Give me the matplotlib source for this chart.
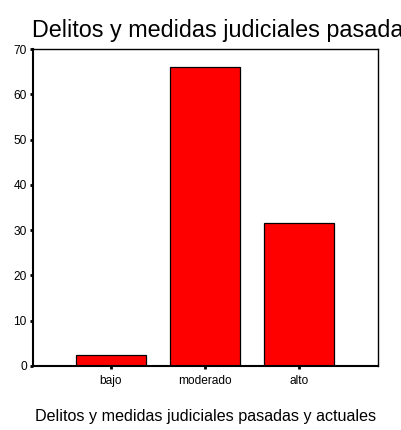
import matplotlib
matplotlib.use('Agg')
import matplotlib.pyplot as plt

plt.rcParams['font.family'] = ['Liberation Sans', 'DejaVu Sans']

categorias = ['bajo', 'moderado', 'alto']
porcentajes = [2.4, 66.0, 31.6]
yticks = [0, 10, 20, 30, 40, 50, 60, 70]

W, H = 401, 430
fig = plt.figure(figsize=(W / 100, H / 100), dpi=100)
ax = fig.add_axes([33 / W, (H - 366) / H, 345 / W, 317 / H])

x = range(len(categorias))
ax.bar(x, porcentajes, width=0.745, color='#ff0000', edgecolor='black', linewidth=0.9)

ax.set_xlim(-0.83, 2.84)
ax.set_ylim(0, 70)
ax.set_yticks(yticks)
ax.set_xticks(list(x))
ax.set_xticklabels(categorias, fontsize=8.6)
ax.tick_params(axis='y', labelsize=8.6, length=2.5, width=2, pad=2)
ax.tick_params(axis='x', length=2.5, width=2, pad=4)
for s in ax.spines.values():
    s.set_linewidth(1)
ax.spines['left'].set_linewidth(1.5)
ax.spines['bottom'].set_linewidth(1.5)

# titulo cortado por el borde derecho, como en el original
fig.text(32 / W, 1 - 30 / H, 'Delitos y medidas judiciales pasadas y actuales',
         fontsize=16.8, ha='left', va='center')
fig.text(206 / W, 1 - 417 / H, 'Delitos y medidas judiciales pasadas y actuales',
         fontsize=11.6, ha='center', va='center')

fig.savefig('out.png', dpi=100)
